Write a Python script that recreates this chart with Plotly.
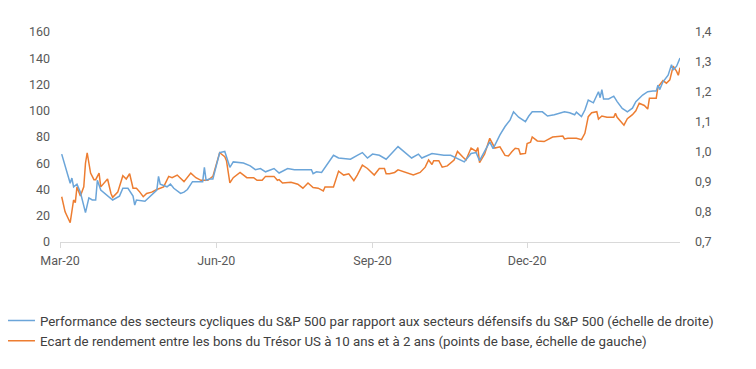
import plotly.graph_objects as go

blue_dates = ["2020-03-02","2020-03-07","2020-03-08","2020-03-09","2020-03-11","2020-03-13","2020-03-16","2020-03-18",
"2020-03-20","2020-03-22","2020-03-23","2020-03-25","2020-04-01","2020-04-05","2020-04-07","2020-04-10","2020-04-13",
"2020-04-14","2020-04-15","2020-04-20","2020-04-27","2020-04-28","2020-04-29","2020-05-03","2020-05-05","2020-05-07",
"2020-05-11","2020-05-13","2020-05-15","2020-05-18","2020-05-24","2020-05-25","2020-05-26","2020-05-28","2020-05-30",
"2020-06-03","2020-06-06","2020-06-09","2020-06-11","2020-06-17","2020-06-21","2020-06-24","2020-06-27","2020-06-30",
"2020-07-05","2020-07-08","2020-07-13","2020-07-17","2020-07-21","2020-07-27","2020-07-28","2020-07-30","2020-08-02",
"2020-08-06","2020-08-09","2020-08-12","2020-08-19","2020-08-23","2020-08-26","2020-08-29","2020-09-01","2020-09-05",
"2020-09-09","2020-09-16","2020-09-21","2020-09-24","2020-09-28","2020-09-30","2020-10-06","2020-10-13","2020-10-17",
"2020-10-25","2020-10-29","2020-11-01","2020-11-03","2020-11-06","2020-11-09","2020-11-11","2020-11-15","2020-11-18",
"2020-11-21","2020-11-23","2020-11-26","2020-11-30","2020-12-02","2020-12-04","2020-12-10","2020-12-13","2020-12-17",
"2020-12-23","2020-12-26","2020-12-29","2020-12-30","2021-01-02","2021-01-04","2021-01-06","2021-01-09","2021-01-12",
"2021-01-13","2021-01-14","2021-01-15","2021-01-18","2021-01-21","2021-01-23","2021-01-26","2021-01-28","2021-01-29",
"2021-02-01","2021-02-03","2021-02-07","2021-02-10","2021-02-13","2021-02-15","2021-02-16","2021-02-17","2021-02-19",
"2021-02-22","2021-02-24","2021-02-25","2021-02-27","2021-03-01"]
blue_values = [0.993,0.896,0.913,0.884,0.893,0.866,0.798,0.847,
0.840,0.840,0.906,0.873,0.840,0.853,0.879,0.879,0.853,
0.823,0.840,0.836,0.873,0.919,0.893,0.884,0.893,0.879,
0.862,0.866,0.875,0.901,0.901,0.949,0.906,0.910,0.910,
0.998,1.002,0.949,0.967,0.963,0.954,0.941,0.945,0.934,
0.945,0.930,0.945,0.941,0.941,0.941,0.928,0.934,0.932,
0.967,0.989,0.980,0.976,0.989,0.998,0.980,0.993,0.989,
0.976,1.018,0.993,0.980,0.993,0.980,0.995,0.989,0.989,
0.967,0.995,0.998,0.971,1.002,1.034,1.011,1.057,1.085,
1.107,1.134,1.116,1.101,1.120,1.134,1.134,1.120,1.124,
1.134,1.131,1.124,1.133,1.118,1.140,1.173,1.164,1.201,
1.181,1.208,1.177,1.177,1.186,1.168,1.145,1.138,1.134,
1.146,1.168,1.190,1.201,1.203,1.203,1.223,1.208,1.234,
1.256,1.291,1.273,1.286,1.313]

orange_dates = ["2020-03-02","2020-03-04","2020-03-07","2020-03-09","2020-03-10","2020-03-11","2020-03-13","2020-03-15",
"2020-03-16","2020-03-17","2020-03-19","2020-03-21","2020-03-22","2020-03-24","2020-03-25","2020-03-27","2020-03-29",
"2020-03-31","2020-04-01","2020-04-04","2020-04-07","2020-04-09","2020-04-11","2020-04-13","2020-04-15","2020-04-17",
"2020-04-19","2020-04-21","2020-04-24","2020-04-27","2020-05-01","2020-05-04","2020-05-06","2020-05-09","2020-05-13",
"2020-05-17","2020-05-20","2020-05-23","2020-05-27","2020-05-30","2020-06-03","2020-06-06","2020-06-07","2020-06-09",
"2020-06-11","2020-06-15","2020-06-19","2020-06-23","2020-06-25","2020-06-28","2020-06-30","2020-07-05","2020-07-07",
"2020-07-08","2020-07-10","2020-07-15","2020-07-19","2020-07-22","2020-07-25","2020-07-28","2020-07-31","2020-08-03",
"2020-08-04","2020-08-09","2020-08-12","2020-08-15","2020-08-18","2020-08-21","2020-08-23","2020-08-26","2020-08-29",
"2020-09-02","2020-09-05","2020-09-08","2020-09-09","2020-09-11","2020-09-14","2020-09-16","2020-09-20","2020-09-25",
"2020-09-29","2020-10-02","2020-10-04","2020-10-06","2020-10-07","2020-10-10","2020-10-12","2020-10-15","2020-10-19",
"2020-10-21","2020-10-24","2020-10-26","2020-10-29","2020-11-01","2020-11-02","2020-11-03","2020-11-06","2020-11-09",
"2020-11-12","2020-11-15","2020-11-18","2020-11-20","2020-11-22","2020-11-24","2020-11-26","2020-11-27","2020-11-30",
"2020-12-01","2020-12-03","2020-12-04","2020-12-07","2020-12-11","2020-12-16","2020-12-22","2020-12-23","2020-12-25",
"2020-12-30","2021-01-02","2021-01-04","2021-01-06","2021-01-08","2021-01-11","2021-01-12","2021-01-14","2021-01-17",
"2021-01-21","2021-01-22","2021-01-23","2021-01-27","2021-01-29","2021-02-01","2021-02-03","2021-02-05","2021-02-08",
"2021-02-10","2021-02-11","2021-02-15","2021-02-16","2021-02-19","2021-02-21","2021-02-23","2021-02-24","2021-02-25",
"2021-02-27","2021-02-28","2021-03-01"]
orange_values = [34.5,23,14.7,32,30,42,35,42,
60,68,52.5,47.5,47.5,52.5,42,45,48,
37,34,38,50.5,48,52,41,41,38,
34.5,37,38,40,42,50,49,51,46,
52.5,49,47,47,50,68,65,62,45,
49,53,49,49,47,47,50,50,47,
47.5,45,45.5,44,41,45,41.5,41,38.9,
42,42,54,51,52,46.7,51,58.6,56,
51,56,56,52,52,53,55,53,51,
53,57,62.5,59,62,62,57,58,62.5,
69,65,62.5,71.6,69,72,60.4,67,79,
71.6,72.5,66,65.5,68.8,71.4,71,67,67.5,
75,76,80,77,76.5,80,80.7,78.5,79,
79,78,82.8,95.5,98.5,99.3,93.7,96,95,
95,98,95,89,94,97,100,105.7,104,
101.3,109.5,109.5,118,123,121,123.5,129,134,
130,127,132.8]

x_ticks = ["2020-03-01", "2020-06-01", "2020-09-01", "2020-12-01"]
x_labels = ["Mar-20", "Jun-20", "Sep-20", "Dec-20"]
left_ticks = [0, 20, 40, 60, 80, 100, 120, 140, 160]
right_ticks = [0.7, 0.8, 0.9, 1.0, 1.1, 1.2, 1.3, 1.4]
right_labels = [f"{v:.1f}".replace(".", ",") for v in right_ticks]

name_blue = "Performance des secteurs cycliques du S&P 500 par rapport aux secteurs défensifs du S&P 500 (échelle de droite)"
name_orange = "Ecart de rendement entre les bons du Trésor US à 10 ans et à 2 ans (points de base, échelle de gauche)"

fig = go.Figure()
fig.add_trace(go.Scatter(x=blue_dates, y=blue_values, name=name_blue, mode="lines",
                         line=dict(color="#6BA5D9", width=1.5), yaxis="y2"))
fig.add_trace(go.Scatter(x=orange_dates, y=orange_values, name=name_orange, mode="lines",
                         line=dict(color="#ED7D31", width=1.5), yaxis="y"))

tickfont = dict(family="Roboto, Liberation Sans, sans-serif", size=12.5, color="#595959")

# page body has an 8px default margin, so the figure is 748x361 and offsets are compensated
fig.update_layout(
    width=748, height=361,
    margin=dict(l=52, r=76, t=24, b=127, autoexpand=False),
    paper_bgcolor="white", plot_bgcolor="white",
    showlegend=True,
    font=tickfont,
    xaxis=dict(type="date", range=["2020-03-01", "2021-03-01"], tickmode="array",
               tickvals=x_ticks, ticktext=x_labels, showgrid=False, showline=True,
               linecolor="#D9D9D9", linewidth=1, ticks="outside", ticklen=5, tickcolor="#D9D9D9",
               tickfont=tickfont, zeroline=False, automargin=False, ticklabelstandoff=2),
    yaxis=dict(range=[0, 160], tickmode="array", tickvals=left_ticks, showgrid=False, showline=False,
               zeroline=False, tickfont=tickfont, ticks="", automargin=False, ticklabelstandoff=9),
    yaxis2=dict(range=[0.7, 1.4], tickmode="array", tickvals=right_ticks, ticktext=right_labels,
                overlaying="y", side="right", showgrid=False, showline=False, zeroline=False,
                tickfont=tickfont, ticks="", automargin=False, ticklabelstandoff=14),
    legend=dict(xref="paper", yref="paper", x=-0.0968, y=-0.302, xanchor="left", yanchor="top",
                orientation="v", traceorder="normal", itemwidth=30,
                font=dict(family="Roboto, Liberation Sans, sans-serif", size=13.3, color="#404040"),
                bgcolor="rgba(0,0,0,0)", tracegroupgap=0),
)

fig.write_html("out.html")
